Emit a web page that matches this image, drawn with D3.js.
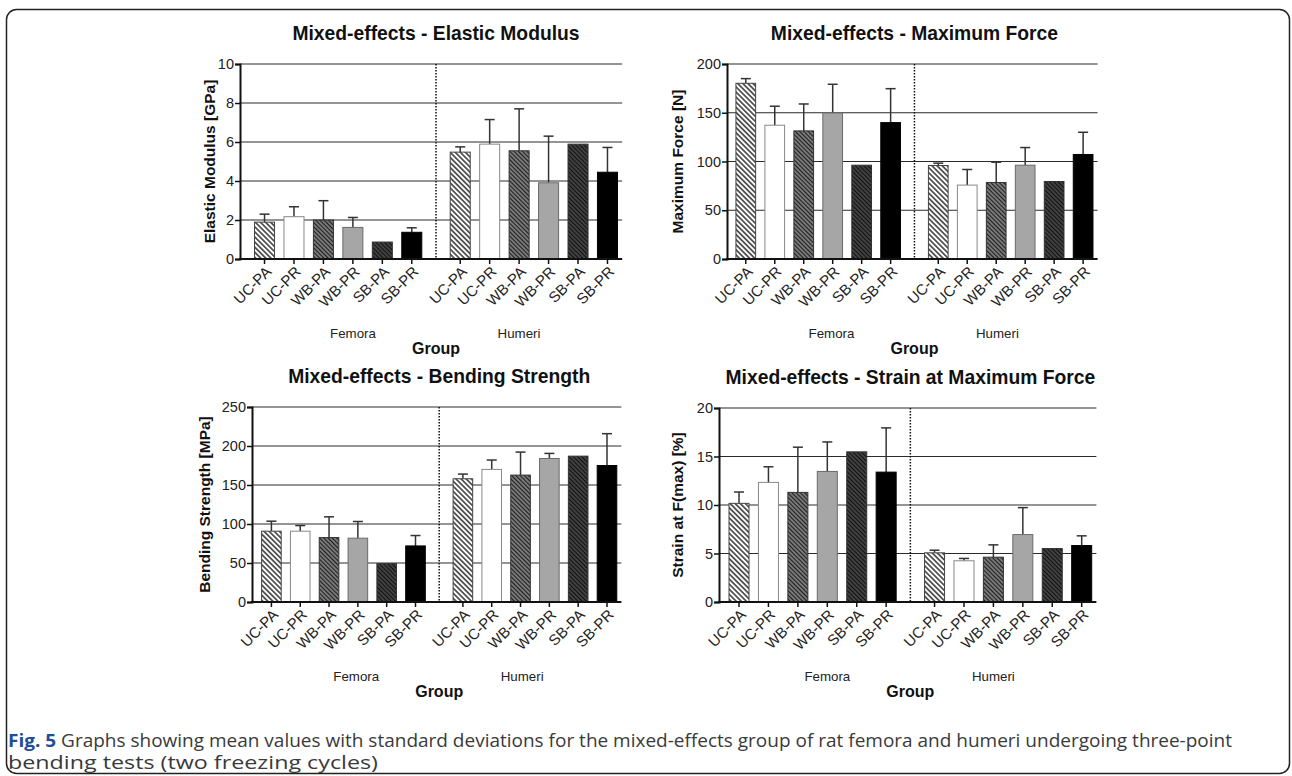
<!DOCTYPE html>
<html>
<head>
<meta charset="utf-8">
<script src="https://cdn.jsdelivr.net/npm/d3@7"></script>
<style>
  html, body { margin: 0; padding: 0; background: #fff; }
  svg { display: block; }
  text { font-family: "Liberation Sans", Arial, sans-serif; }
</style>
</head>
<body>
<svg id="chart" width="1292" height="776"></svg>
<script>
// ---------- data ----------
const categories = ["UC-PA", "UC-PR", "WB-PA", "WB-PR", "SB-PA", "SB-PR"];
const groups = ["Femora", "Humeri"];

// values: 6 Femora followed by 6 Humeri
const elasticMean = [1.89, 2.17, 2.00, 1.62, 0.87, 1.37, 5.48, 5.89, 5.55, 3.91, 5.89, 4.45];
const elasticSD   = [0.41, 0.51, 0.99, 0.51, 0,    0.23, 0.27, 1.26, 2.15, 2.39, 0,    1.27];

const forceMean = [180.2, 137.2, 131.4, 149.8, 96.2, 139.9, 95.9, 75.8, 78.5, 96.2, 79.5, 107.2];
const forceSD   = [4.8,   19.5,  27.6,  29.4,  0,    34.8,  2.4,  16.0, 20.8, 18.1, 0,    22.8];

const bendingMean = [90.8, 90.8, 82.6, 81.8, 49.2, 71.9, 158, 170, 162.7, 184, 187, 175];
const bendingSD   = [12.8, 7.2,  26.6, 21.4, 0,    13.3, 6,   12,  29.5,  6.5, 0,   40.8];

const strainMean = [10.17, 12.33, 11.3, 13.46, 15.48, 13.39, 5.07, 4.25, 4.62, 6.95, 5.51, 5.82];
const strainSD   = [1.17,  1.61,  4.66, 3.04,  0,     4.56,  0.27, 0.24, 1.27, 2.78, 0,    1.0];

const elasticTicks = [0, 2, 4, 6, 8, 10];
const forceTicks = [0, 50, 100, 150, 200];
const bendingTicks = [0, 50, 100, 150, 200, 250];
const strainTicks = [0, 5, 10, 15, 20];

const titles = ["Mixed-effects - Elastic Modulus", "Mixed-effects - Maximum Force",
                "Mixed-effects - Bending Strength", "Mixed-effects - Strain at Maximum Force"];
const yTitles = ["Elastic Modulus [GPa]", "Maximum Force [N]", "Bending Strength [MPa]", "Strain at F(max) [%]"];
const xTitle = "Group";
const captionBold = "Fig. 5";
const captionLine1 = " Graphs showing mean values with standard deviations for the mixed-effects group of rat femora and humeri undergoing three-point";
const captionLine2 = "bending tests (two freezing cycles)";

// ---------- layout ----------
const panels = [
  { mean: elasticMean, sd: elasticSD, ticks: elasticTicks, left: 240, padL: 9.8, right: 622.2, top: 64, bottom: 259, yTitleX: 210 },
  { mean: forceMean, sd: forceSD, ticks: forceTicks, left: 727, padL: 4.3, right: 1097.6, top: 64, bottom: 259, yTitleX: 678 },
  { mean: bendingMean, sd: bendingSD, ticks: bendingTicks, left: 252, padL: 5, right: 621.4, top: 407, bottom: 602, yTitleX: 205 },
  { mean: strainMean, sd: strainSD, ticks: strainTicks, left: 719, padL: 5.3, right: 1096.4, top: 408, bottom: 602, yTitleX: 678 }
];

const svg = d3.select("#chart");

// frame
svg.append("rect")
  .attr("x", 6.5).attr("y", 9.5).attr("width", 1283).attr("height", 764)
  .attr("rx", 10).attr("ry", 10)
  .attr("fill", "none").attr("stroke", "#222").attr("stroke-width", 1.5);

// patterns
const defs = svg.append("defs");
function hatch(id, bg, lineColor, spacing, lw) {
  const p = defs.append("pattern").attr("id", id)
    .attr("patternUnits", "userSpaceOnUse")
    .attr("width", spacing).attr("height", spacing)
    .attr("patternTransform", "rotate(45)");
  p.append("rect").attr("width", spacing).attr("height", spacing).attr("fill", bg);
  p.append("line").attr("x1", 0).attr("y1", spacing / 2).attr("x2", spacing).attr("y2", spacing / 2)
    .attr("stroke", lineColor).attr("stroke-width", lw);
}
hatch("hLight", "#ffffff", "#111", 3.6, 1.3);
hatch("hMid", "#8e8e8e", "#1e1e1e", 3.0, 1.4);
hatch("hDark", "#555", "#111", 3.0, 1.6);

const fills = {
  "UC-PA": { fill: "url(#hLight)", stroke: "#444" },
  "UC-PR": { fill: "#ffffff", stroke: "#888" },
  "WB-PA": { fill: "url(#hMid)", stroke: "#333" },
  "WB-PR": { fill: "#a6a6a6", stroke: "#6a6a6a" },
  "SB-PA": { fill: "url(#hDark)", stroke: "#333" },
  "SB-PR": { fill: "#000000", stroke: "#000" }
};

panels.forEach((p, pi) => {
  const g = svg.append("g");
  const yMax = p.ticks[p.ticks.length - 1];
  const y = d3.scaleLinear().domain([0, yMax]).range([p.bottom, p.top]);
  const outer = d3.scaleBand().domain(groups).range([p.left + p.padL, p.right])
    .paddingInner(0.097).paddingOuter(0);
  const inner = d3.scaleBand().domain(categories).range([0, outer.bandwidth()])
    .paddingInner(0.32).paddingOuter(0.16);

  const rows = [];
  groups.forEach((gr, gi) => categories.forEach((c, ci) => {
    const i = gi * 6 + ci;
    rows.push({ group: gr, cat: c, mean: p.mean[i], sd: p.sd[i] });
  }));
  const cx = d => outer(d.group) + inner(d.cat) + inner.bandwidth() / 2;

  // gridlines
  g.append("g").selectAll("line").data(p.ticks.slice(1)).join("line")
    .attr("x1", p.left).attr("x2", p.right)
    .attr("y1", d => y(d)).attr("y2", d => y(d))
    .attr("stroke", "#2a2a2a").attr("stroke-width", 1);

  // divider (dotted)
  const divX = (outer(groups[0]) + outer.bandwidth() + outer(groups[1])) / 2;
  g.append("line").attr("x1", divX).attr("x2", divX).attr("y1", p.top).attr("y2", p.bottom)
    .attr("stroke", "#111").attr("stroke-width", 1.5).attr("stroke-dasharray", "1.5,1.5");

  // error bars (upper whisker)
  const eb = g.append("g").selectAll("g").data(rows.filter(d => d.sd > 0)).join("g");
  eb.append("line").attr("x1", cx).attr("x2", cx)
    .attr("y1", d => y(d.mean)).attr("y2", d => y(d.mean + d.sd))
    .attr("stroke", "#333").attr("stroke-width", 1.5);
  eb.append("line").attr("x1", d => cx(d) - 5).attr("x2", d => cx(d) + 5)
    .attr("y1", d => y(d.mean + d.sd)).attr("y2", d => y(d.mean + d.sd))
    .attr("stroke", "#333").attr("stroke-width", 1.5);

  // bars
  g.append("g").selectAll("rect").data(rows).join("rect")
    .attr("x", d => outer(d.group) + inner(d.cat))
    .attr("width", inner.bandwidth())
    .attr("y", d => y(d.mean))
    .attr("height", d => p.bottom - y(d.mean))
    .attr("fill", d => fills[d.cat].fill)
    .attr("stroke", d => fills[d.cat].stroke)
    .attr("stroke-width", 1);

  // y axis
  const yAxis = d3.axisLeft(y).tickValues(p.ticks).tickSize(5).tickPadding(1).tickFormat(d3.format("d"));
  const ya = g.append("g").attr("transform", `translate(${p.left},0)`).call(yAxis);
  ya.attr("font-size", null).attr("font-family", null);
  ya.select(".domain").attr("stroke", "#111").attr("stroke-width", 2);
  ya.selectAll(".tick line").attr("stroke", "#111").attr("stroke-width", 1.5);
  ya.selectAll(".tick text").style("font-size", "14.5px").attr("fill", "#222")
    .style("font-family", "'Liberation Sans', Arial, sans-serif");

  // x axis line & ticks
  g.append("line").attr("x1", p.left - 1).attr("x2", p.right)
    .attr("y1", p.bottom).attr("y2", p.bottom).attr("stroke", "#111").attr("stroke-width", 2);
  g.append("g").selectAll("line").data(rows).join("line")
    .attr("x1", cx).attr("x2", cx).attr("y1", p.bottom).attr("y2", p.bottom + 5)
    .attr("stroke", "#111").attr("stroke-width", 1.5);
  g.append("g").selectAll("text").data(rows).join("text")
    .attr("transform", d => `translate(${cx(d) + 4},${p.bottom + 10}) rotate(-45)`)
    .attr("text-anchor", "end").attr("dy", "0.35em")
    .style("font-size", "15px").attr("fill", "#222")
    .text(d => d.cat);

  // group labels
  groups.forEach((gr, gi) => {
    g.append("text").attr("x", divX + (gi === 0 ? -83 : 83)).attr("y", p.bottom + 79)
      .attr("text-anchor", "middle").style("font-size", "13.3px").attr("fill", "#222").text(gr);
  });
  g.append("text").attr("x", divX).attr("y", p.bottom + 95)
    .attr("text-anchor", "middle").style("font-size", "16px").attr("font-weight", "bold")
    .attr("fill", "#111").text(xTitle);

  // title
  g.append("text").attr("x", divX).attr("y", p.top - 24)
    .attr("text-anchor", "middle").style("font-size", "19.3px").attr("font-weight", "bold")
    .attr("fill", "#111").text(titles[pi]);

  // y title
  g.append("text").attr("transform", `translate(${p.yTitleX},${(p.top + p.bottom) / 2}) rotate(-90)`)
    .attr("text-anchor", "middle").attr("dy", "0.35em")
    .style("font-size", "15.5px").attr("font-weight", "bold").attr("fill", "#111").text(yTitles[pi]);
});

// caption
const cap = svg.append("text").attr("x", 8).attr("y", 747)
  .style("font-family", "'Liberation Sans Narrow', 'Open Sans', sans-serif")
  .style("font-size", "18px").attr("fill", "#3a3a3a")
  .attr("textLength", 1224).attr("lengthAdjust", "spacingAndGlyphs");
cap.append("tspan").attr("font-weight", "bold").attr("fill", "#1d4f96").text(captionBold);
cap.append("tspan").text(captionLine1);
svg.append("text").attr("x", 8).attr("y", 769)
  .style("font-family", "'Liberation Sans Narrow', 'Open Sans', sans-serif")
  .style("font-size", "18px").attr("fill", "#3a3a3a")
  .attr("textLength", 370).attr("lengthAdjust", "spacingAndGlyphs")
  .text(captionLine2);
</script>
</body>
</html>
